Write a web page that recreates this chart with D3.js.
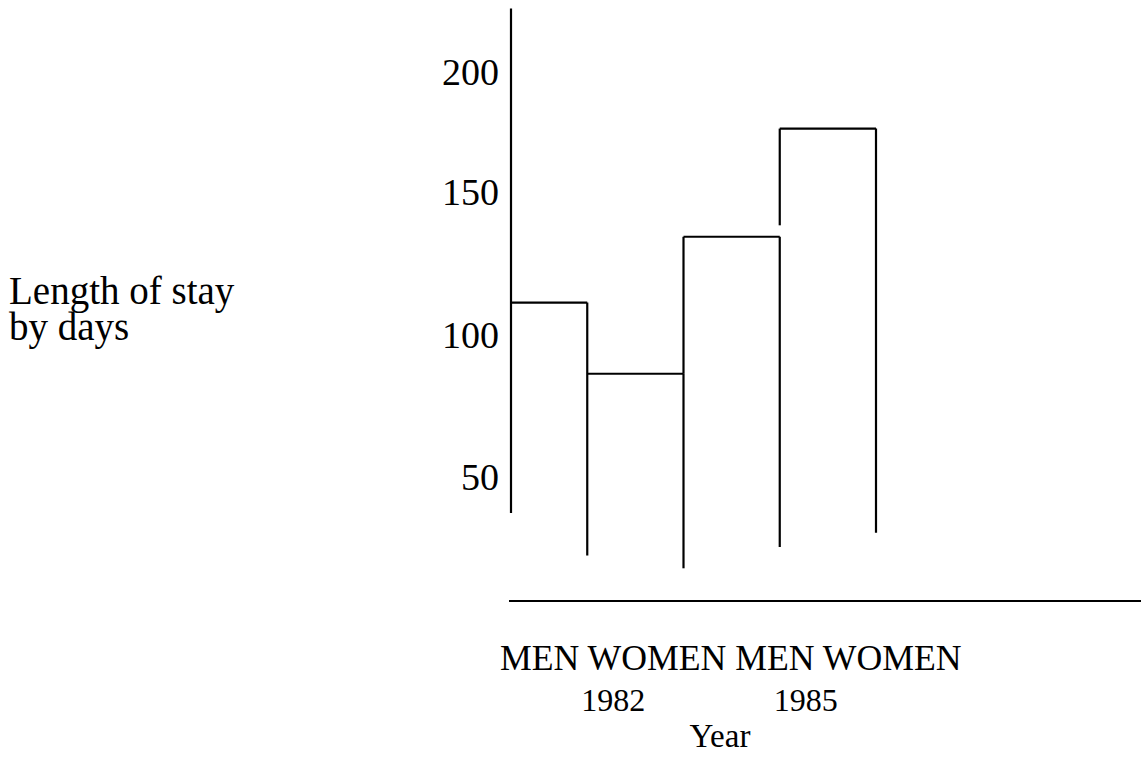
<!DOCTYPE html>
<html lang="en">

<head>
    <meta charset="utf-8">
    <title>Length of stay by days</title>
    <script src="https://d3js.org/d3.v7.min.js"></script>
    <style>
        body { margin: 0; background: #fff; }
        text { font-family: "Liberation Serif", "Times New Roman", serif; fill: #000; }
    </style>
</head>

<body>
    <svg width="1141" height="757"></svg>

    <script>
        // data
        const categories = ["MEN", "WOMEN", "MEN", "WOMEN"];
        const years = ["1982", "1985"];
        const values = [111, 86, 134, 176];        // length of stay (days)
        const dropEnds = [22, 17.5, 25, 30];       // where each bar's right side stops (hand drawn)
        const leftStops = [111, 86, 86, 138];      // where each bar's left side stops
        const tickValues = [50, 100, 150, 200];
        const axisTop = 226, axisBottom = 37;      // extent of the vertical axis line

        const svg = d3.select("svg");

        // the hand-drawn tick marks are not evenly spaced, so the scale is piecewise
        const y = d3.scaleLinear()
            .domain([50, 100, 150, 200])
            .range([476, 334, 191, 71]);

        const x = d3.scaleBand()
            .domain(d3.range(categories.length))
            .range([491, 876])
            .padding(0);

        const axisX = 511;
        const baseY = 601;

        const g = svg.append("g")
            .attr("stroke", "#000")
            .attr("stroke-width", 2.2)
            .attr("fill", "none");

        // vertical axis line
        g.append("line")
            .attr("x1", axisX).attr("x2", axisX)
            .attr("y1", y(axisTop)).attr("y2", y(axisBottom));

        // horizontal base line
        g.append("line")
            .attr("x1", axisX - 2).attr("x2", 1141)
            .attr("y1", baseY).attr("y2", baseY);

        const bars = g.selectAll("g.bar")
            .data(values)
            .join("g")
            .attr("class", "bar");

        // top of each bar
        bars.append("line")
            .attr("x1", (d, i) => Math.max(x(i), axisX))
            .attr("x2", (d, i) => x(i) + x.bandwidth())
            .attr("y1", d => y(d))
            .attr("y2", d => y(d));

        // right side
        bars.append("line")
            .attr("x1", (d, i) => x(i) + x.bandwidth())
            .attr("x2", (d, i) => x(i) + x.bandwidth())
            .attr("y1", d => y(d))
            .attr("y2", (d, i) => y(dropEnds[i]));

        // left side
        bars.append("line")
            .attr("x1", (d, i) => x(i))
            .attr("x2", (d, i) => x(i))
            .attr("y1", d => y(d))
            .attr("y2", (d, i) => y(leftStops[i]))
            .style("display", (d, i) => i === 0 ? "none" : null);

        // tick labels
        svg.append("g")
            .selectAll("text")
            .data(tickValues)
            .join("text")
            .attr("x", axisX - 12)
            .attr("y", d => y(d))
            .attr("dy", "0.36em")
            .attr("text-anchor", "end")
            .attr("font-size", 38)
            .text(d => d);

        // y title
        svg.append("text")
            .attr("x", 9)
            .attr("y", 304)
            .attr("font-size", 39)
            .selectAll("tspan")
            .data(["Length of stay", "by days"])
            .join("tspan")
            .attr("x", 9)
            .attr("dy", (d, i) => i === 0 ? 0 : 36)
            .text(d => d);

        // category row
        svg.append("text")
            .attr("x", x(0) + 9)
            .attr("y", 670)
            .attr("font-size", 35.7)
            .text(categories.join(" "));

        // years
        svg.append("g")
            .selectAll("text")
            .data(years)
            .join("text")
            .attr("x", (d, i) => x(i * 2 + 1) + 26)
            .attr("y", 711)
            .attr("text-anchor", "middle")
            .attr("font-size", 32)
            .text(d => d);

        svg.append("text")
            .attr("x", 720)
            .attr("y", 747)
            .attr("text-anchor", "middle")
            .attr("font-size", 33)
            .text("Year");
    </script>
</body>

</html>
